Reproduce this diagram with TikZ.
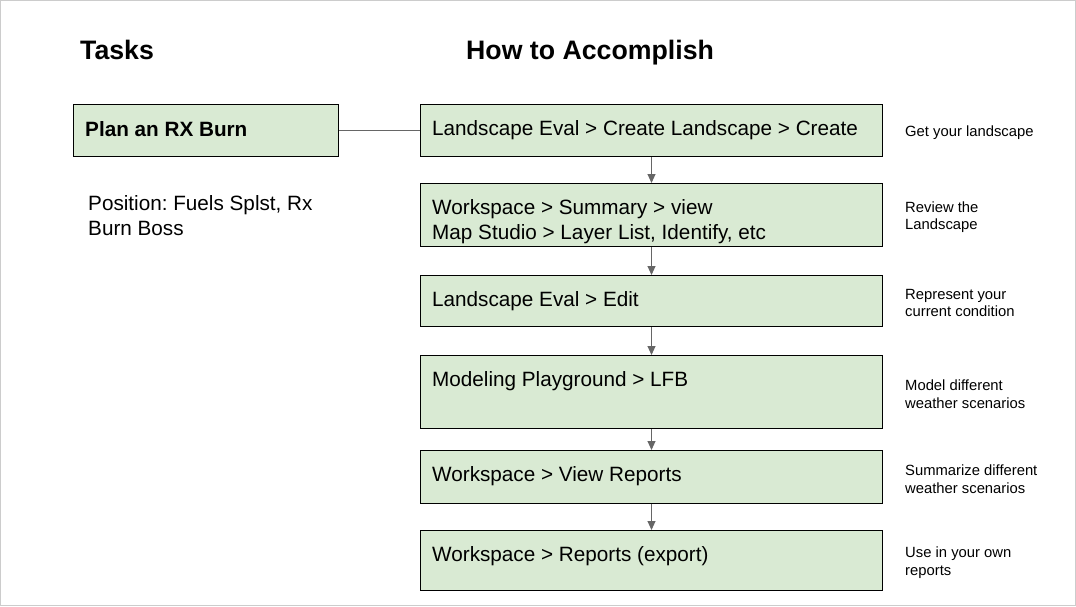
\documentclass[tikz,border=0pt]{standalone}
\usepackage{fontspec}
\setmainfont{Liberation Sans}
\usetikzlibrary{arrows.meta}
\frenchspacing
\definecolor{boxgreen}{HTML}{D9EAD3}
\definecolor{linegray}{HTML}{666666}
\definecolor{framegray}{HTML}{CCCCCC}
\tikzset{
    stepbox/.style={draw=black,line width=1pt,fill=boxgreen,inner sep=0pt,anchor=north west},
    boxtext/.style={anchor=north west,inner sep=0pt,align=left,font=\fontsize{20.7}{25}\selectfont},
    sidenote/.style={anchor=west,inner sep=0pt,align=left,font=\fontsize{14.8}{17.5}\selectfont},
    heading/.style={anchor=base west,inner sep=0pt,font=\fontsize{26.7}{30}\selectfont\bfseries}
}
\begin{document}
\begin{tikzpicture}[x=1pt,y=-1pt,>={Triangle[length=9pt,width=8pt]}]
            \def\bx{420} \def\bw{462}
            \useasboundingbox (0,0) rectangle (1076,606);
            \draw[framegray,line width=1pt] (0.5,0.5) rectangle (1075.5,605.5);
            %===========================================
            \node[heading] (tasks) at (80,59) {Tasks};
            \node[heading] (how) at (466,59) {How to Accomplish};
            \node[stepbox,minimum width=265,minimum height=52] (plan) at (73,104) {};
            \node[boxtext,font=\fontsize{20.7}{25}\selectfont\bfseries] (plantxt) at ([shift={(12,17)}]plan.north west) {Plan an RX Burn};
            \node[boxtext] (pos) at (88,195) {Position: Fuels Splst, Rx\\Burn Boss};
            %===========================================
            \foreach \n/\t/\h/\txt/\note in {
                land/104/52/{Landscape Eval > Create Landscape > Create}/{Get your landscape},
                summ/183/63/{Workspace > Summary > view\\Map Studio > Layer List, Identify, etc}/{Review the\\Landscape},
                edit/275/51/{Landscape Eval > Edit}/{Represent your\\current condition},
                lfb/355/73/{Modeling Playground > LFB}/{Model different\\weather scenarios},
                view/450/53/{Workspace > View Reports}/{Summarize different\\weather scenarios},
                expo/530/60/{Workspace > Reports (export)}/{Use in your own\\reports}}{
                \node[stepbox,minimum width=\bw,minimum height=\h] (\n) at (\bx,\t) {};
                \node[boxtext] (\n txt) at ([shift={(12,16)}]\n.north west) {\txt};
                \node[sidenote] (\n note) at ([shift={(22,2)}]\n.east) {\note};
            }
            %===========================================
            \draw[linegray,line width=1pt] (plan.east) -- (land.west);
            \foreach \a/\b in {land/summ,summ/edit,edit/lfb,lfb/view,view/expo}
                \draw[->,linegray,line width=1pt] (\a.south) -- (\b.north);
    \end{tikzpicture}
\end{document}
